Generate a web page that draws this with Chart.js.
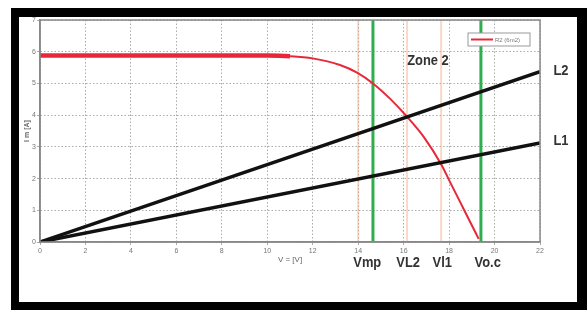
<!DOCTYPE html>
<html>
<head>
<meta charset="utf-8">
<script src="https://cdn.jsdelivr.net/npm/chart.js@4"></script>
<style>
  body { margin: 0; background: #fff; }
  canvas { display: block; }
</style>
</head>
<body>
<canvas id="myChart" width="587" height="310"></canvas>
<script>
const curveV = [0, 2, 4, 6, 8, 10, 11, 12, 13.2, 13.95, 14.65, 15.4, 16.15, 16.9, 17.65, 18.05, 18.5, 18.95, 19.3];
const curveI = [5.88, 5.88, 5.88, 5.88, 5.88, 5.88, 5.86, 5.79, 5.58, 5.34, 5.0, 4.52, 3.95, 3.3, 2.45, 1.88, 1.24, 0.6, 0.1];

// belastingslijnen L1 en L2
const loadV = [0, 22];
const l1I = [0, 3.12];
const l2I = [0, 5.37];

// verticale lijnen
const greenV = [14.65, 19.4];
const faintV = [14.0, 16.15, 17.65];

// as-ticks
const xTicks = [0, 22, 2];
const yTicks = [0, 7, 1];

// teksten
const bottomLabels = ["Vmp", "VL2", "Vl1", "Vo.c"];
const bottomLabelV = [14.4, 16.2, 17.7, 19.7];
const lineLabels = ["L2", "L1"];
const lineLabelI = [5.39, 3.18];
const legendText = "R2 (6m2)";

const narrow = '"Liberation Sans Narrow", Arial, "Liberation Sans", sans-serif';

function toPoints(xs, ys) {
  return xs.map((x, i) => ({ x: x, y: ys[i] }));
}

function vLine(v, color, width) {
  return {
    data: [{ x: v, y: yTicks[0] }, { x: v, y: yTicks[1] }],
    borderColor: color,
    borderWidth: width,
    pointRadius: 0
  };
}

// smalle tekst (geen narrow font beschikbaar, dus horizontaal schalen)
function narrowText(c, t, x, y) {
  c.save();
  c.translate(x, y);
  c.scale(0.86, 1);
  c.fillText(t, 0, 0);
  c.restore();
}

const datasets = [];
datasets.push({ data: toPoints(loadV, l2I), borderColor: '#111', borderWidth: 3.5, pointRadius: 0 });
datasets.push({ data: toPoints(loadV, l1I), borderColor: '#111', borderWidth: 3.5, pointRadius: 0 });
datasets.push({
  data: toPoints(curveV, curveI),
  borderColor: '#e8283a',
  borderWidth: 2,
  pointRadius: 0,
  cubicInterpolationMode: 'monotone',
  segment: {
    borderWidth: ctx => ctx.p0.parsed.x < 11 ? 4.5 : 2
  }
});
greenV.forEach(v => datasets.push(vLine(v, '#2fae4e', 3)));
faintV.forEach(v => datasets.push(vLine(v, 'rgba(240,170,130,0.45)', 2)));

// achtergrond, kader en teksten
const frame = {
  id: 'frame',
  beforeDraw(chart) {
    const c = chart.ctx;
    c.save();
    c.fillStyle = '#fff';
    c.fillRect(0, 0, chart.width, chart.height);
    c.fillStyle = '#000';
    c.fillRect(11, 8, 576, 302);
    c.fillStyle = '#fff';
    c.fillRect(19, 17, 558, 285);
    c.restore();
  },
  afterDraw(chart) {
    const c = chart.ctx;
    const a = chart.chartArea;
    const xs = chart.scales.x;
    const ys = chart.scales.y;
    c.save();
    // rand rondom de grafiek
    c.strokeStyle = '#888';
    c.lineWidth = 1.5;
    c.strokeRect(a.left, a.top, a.right - a.left, a.bottom - a.top);

    // legenda
    const lx = a.right - 72, ly = a.top + 13;
    c.fillStyle = '#fff';
    c.fillRect(lx, ly, 62, 13);
    c.strokeStyle = '#999';
    c.lineWidth = 1;
    c.strokeRect(lx, ly, 62, 13);
    c.strokeStyle = '#e8283a';
    c.lineWidth = 2;
    c.beginPath();
    c.moveTo(lx + 3, ly + 6.5);
    c.lineTo(lx + 25, ly + 6.5);
    c.stroke();
    c.fillStyle = '#777';
    c.font = '6px ' + narrow;
    c.textAlign = 'left';
    c.textBaseline = 'middle';
    c.fillText(legendText, lx + 27, ly + 7);

    // Zone 2
    c.fillStyle = '#333';
    c.font = 'bold 15px ' + narrow;
    c.textAlign = 'center';
    narrowText(c, 'Zone 2', xs.getPixelForValue(17.07), ys.getPixelForValue(5.71));

    // L1, L2
    lineLabels.forEach((t, i) => {
      narrowText(c, t, a.right + 21, ys.getPixelForValue(lineLabelI[i]));
    });

    // labels onder de as
    bottomLabels.forEach((t, i) => {
      narrowText(c, t, xs.getPixelForValue(bottomLabelV[i]), a.bottom + 21);
    });

    // astitels
    c.fillStyle = '#666';
    c.font = '8px ' + narrow;
    c.fillText('V = [V]', (a.left + a.right) / 2, a.bottom + 18);
    c.translate(27, (a.top + a.bottom) / 2);
    c.rotate(-Math.PI / 2);
    c.font = 'bold 7px ' + narrow;
    c.fillText('I m [A]', 0, 0);
    c.restore();
  }
};

new Chart(document.getElementById('myChart'), {
  type: 'line',
  data: { datasets: datasets },
  options: {
    responsive: false,
    animation: false,
    layout: { padding: { left: 0, right: 47, top: 20, bottom: 0 } },
    plugins: { legend: { display: false }, tooltip: { enabled: false } },
    scales: {
      x: {
        type: 'linear',
        min: xTicks[0],
        max: xTicks[1],
        afterFit: s => { s.height = 68; },
        ticks: { stepSize: xTicks[2], color: '#777', font: { size: 7 }, padding: 2, maxRotation: 0 },
        grid: { color: '#aaa', lineWidth: 1, tickLength: 3 },
        border: { color: '#888', width: 1.5, dash: [1.5, 2] }
      },
      y: {
        min: yTicks[0],
        max: yTicks[1],
        afterFit: s => { s.width = 40; },
        ticks: { stepSize: yTicks[2], color: '#777', font: { size: 7 }, padding: 1 },
        grid: { color: '#aaa', lineWidth: 1, tickLength: 3 },
        border: { color: '#888', width: 1.5, dash: [1.5, 2] }
      }
    }
  },
  plugins: [frame]
});
</script>
</body>
</html>
